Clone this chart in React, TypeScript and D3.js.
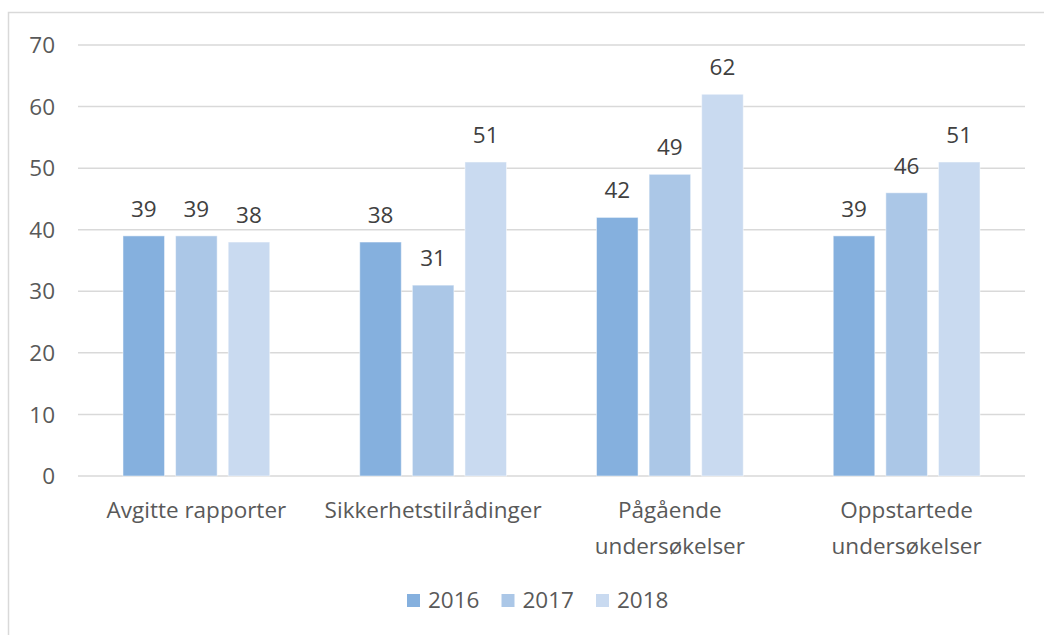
import React from "react";
import * as d3 from "d3";

const categories: string[][] = [
  ["Avgitte rapporter"],
  ["Sikkerhetstilrådinger"],
  ["Pågående", "undersøkelser"],
  ["Oppstartede", "undersøkelser"],
];
const seriesNames = ["2016", "2017", "2018"];
const values2016 = [39, 38, 42, 39];
const values2017 = [39, 31, 49, 46];
const values2018 = [38, 51, 62, 51];
const yTicks = [0, 10, 20, 30, 40, 50, 60, 70];
const colors = ["#85B0DE", "#ABC7E7", "#C9DAF0"];

const W = 1044;
const H = 635;
const FONT = "'Open Sans', 'Liberation Sans', sans-serif";
const TEXT = "#595959";
const FS = 22.5;

export default function App() {
  const series = [values2016, values2017, values2018];
  const x0 = d3
    .scaleBand<number>()
    .domain(categories.map((_, i) => i))
    .range([78, 1025])
    .paddingInner(0.38)
    .paddingOuter(0.19);
  const x1 = d3
    .scaleBand<number>()
    .domain([0, 1, 2])
    .range([0, x0.bandwidth()])
    .paddingInner(0.21);
  const y = d3.scaleLinear().domain([0, 70]).range([476, 45]);

  return (
    <svg
      width={W}
      height={H}
      style={{ position: "absolute", left: 0, top: 0, display: "block" }}
      fontFamily={FONT}
    >
      <rect x={0} y={0} width={W} height={H} fill="#fff" />
      <rect x={8.5} y={12.5} width={W + 10} height={H + 10} fill="none" stroke="#D9D9D9" strokeWidth={1.5} />
      {yTicks.map((t) => (
        <g key={t}>
          <line x1={78} x2={1025} y1={y(t)} y2={y(t)} stroke="#D9D9D9" strokeWidth={1.5} />
          <text x={55} y={y(t)} dy="0.36em" textAnchor="end" fontSize={FS} fill={TEXT}>
            {t}
          </text>
        </g>
      ))}
      {categories.map((cat, ci) => (
        <g key={ci} transform={`translate(${x0(ci)},0)`}>
          {series.map((vals, si) => (
            <g key={si}>
              <rect
                x={x1(si)}
                y={y(vals[ci])}
                width={x1.bandwidth()}
                height={y(0) - y(vals[ci])}
                fill={colors[si]}
                stroke="#fff"
                strokeOpacity={0.5}
                strokeWidth={1}
              />
              <text
                x={(x1(si) as number) + x1.bandwidth() / 2}
                y={y(vals[ci]) - 19}
                textAnchor="middle"
                fontSize={FS}
                fill="#404040"
              >
                {vals[ci]}
              </text>
            </g>
          ))}
          {cat.map((line, li) => (
            <text
              key={li}
              x={x0.bandwidth() / 2}
              y={518 + li * 36}
              textAnchor="middle"
              fontSize={FS}
              fill={TEXT}
            >
              {line}
            </text>
          ))}
        </g>
      ))}
      {seriesNames.map((name, i) => {
        const lx = 407 + i * 94.5;
        return (
          <g key={name}>
            <rect x={lx} y={594} width={13} height={13} fill={colors[i]} />
            <text x={lx + 21} y={608} fontSize={FS} fill={TEXT}>
              {name}
            </text>
          </g>
        );
      })}
    </svg>
  );
}
